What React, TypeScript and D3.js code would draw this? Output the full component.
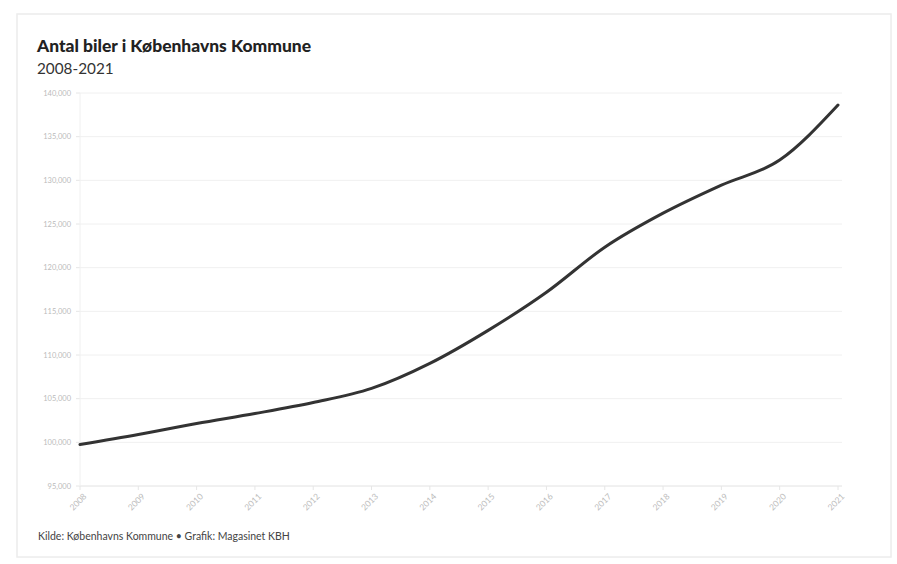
import React from "react";
import * as d3 from "d3";

const years = [2008, 2009, 2010, 2011, 2012, 2013, 2014, 2015, 2016, 2017, 2018, 2019, 2020, 2021];
const cars = [99750, 100890, 102160, 103300, 104560, 106170, 109040, 112820, 117180, 122340, 126240, 129450, 132320, 138620];
const yTicks = [95000, 100000, 105000, 110000, 115000, 120000, 125000, 130000, 135000, 140000];

const title = "Antal biler i Københavns Kommune";
const subtitle = "2008-2021";
const footer = "Kilde: Københavns Kommune • Grafik: Magasinet KBH";

export default function App() {
  const W = 897, H = 564;
  const left = 80, right = 838, top = 93, bottom = 486;
  const x = d3.scaleLinear().domain([2008, 2021]).range([left, right]);
  const y = d3.scaleLinear().domain([95000, 140000]).range([bottom, top]);
  const line = d3
    .line<number>()
    .x((_, i) => x(years[i]))
    .y((d) => y(d))
    .curve(d3.curveMonotoneX);
  const fmt = d3.format(",");
  const font = "Lato, 'Open Sans', sans-serif";
  return (
    <svg width={W} height={H} style={{ position: "absolute", left: 0, top: 0, display: "block" }} fontFamily={font}>
      <rect x={0} y={0} width={W} height={H} fill="#fff" />
      <rect x={17} y={14} width={874} height={543} fill="#fff" stroke="#ececec" strokeWidth={1.5} />
      <text x={37} y={52} fontSize={16.5} fontWeight={900} fill="#222" textLength={274} lengthAdjust="spacingAndGlyphs">{title}</text>
      <text x={37} y={74} fontSize={15.3} fill="#333">{subtitle}</text>
      {yTicks.map((t) => (
        <g key={t}>
          <line x1={left} x2={right + 4} y1={y(t)} y2={y(t)} stroke={t === 95000 ? "#e2e2e2" : "#f0f0f0"} strokeWidth={1} />
          <line x1={left - 4} x2={left} y1={y(t)} y2={y(t)} stroke="#e6e6e6" />
          <text x={71} y={y(t)} dy="0.35em" textAnchor="end" fontSize={7.5} fill="#bbb">{fmt(t)}</text>
        </g>
      ))}
      <line x1={left} x2={left} y1={top} y2={bottom} stroke="#f0f0f0" />
      {years.map((yr) => (
        <g key={yr}>
          <line x1={x(yr)} x2={x(yr)} y1={bottom} y2={bottom + 4} stroke="#e6e6e6" />
          <text
            transform={`translate(${x(yr) + 5},${bottom + 9}) rotate(-45)`}
            textAnchor="end"
            dy="0.35em"
            fontSize={8.5}
            fill="#bbb"
          >
            {yr}
          </text>
        </g>
      ))}
      <path d={line(cars) || ""} fill="none" stroke="#333" strokeWidth={3} strokeLinecap="round" />
      <text x={38} y={540} fontSize={10.5} fill="#444">{footer}</text>
    </svg>
  );
}
